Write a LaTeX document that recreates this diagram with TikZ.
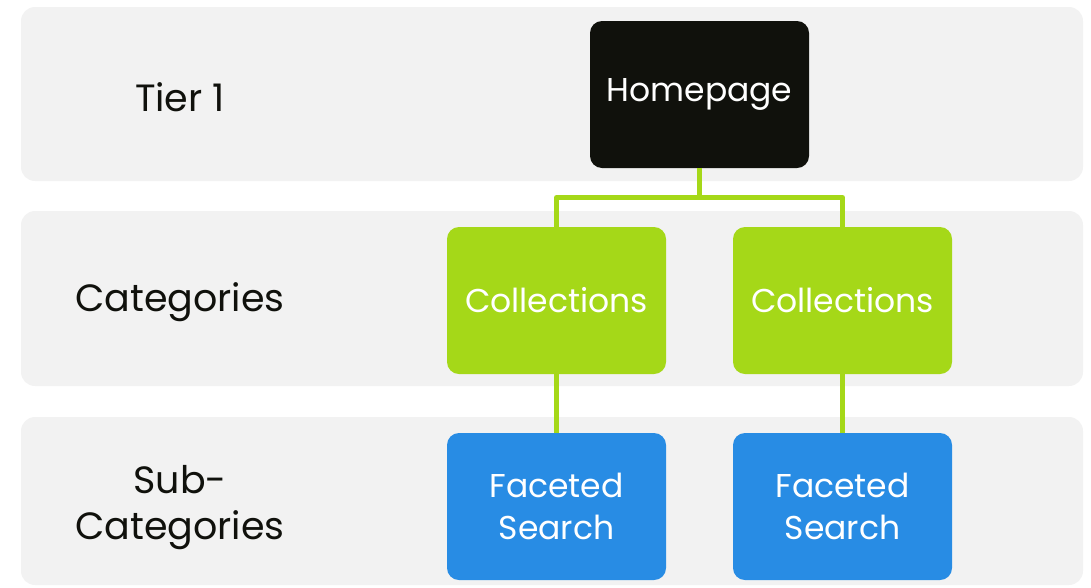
\documentclass[tikz,border=0pt]{standalone}
\usepackage{fontspec}
\setmainfont{Poppins}
\usetikzlibrary{calc}

\definecolor{bandgray}{HTML}{F2F2F2}
\definecolor{tiergreen}{HTML}{A5D818}
\definecolor{tierblue}{HTML}{288CE4}
\definecolor{tierblack}{HTML}{10110C}

\tikzset{
  pagebox/.style={rounded corners=12pt, minimum width=219pt, minimum height=147pt,
    inner sep=0pt, align=center, text=white, font=\fontsize{33}{42}\selectfont},
  tierlabel/.style={align=center, text=tierblack, font=\fontsize{38}{46}\selectfont},
  link/.style={tiergreen, line width=5pt, line join=round}
}

\begin{document}
\begin{tikzpicture}[x=1pt, y=-1pt]
\useasboundingbox (0,0) rectangle (1091,587);
% background bands
\foreach \top/\bot in {7/181, 211/386, 417/585}
  \fill [bandgray, rounded corners=14pt] (21,\top) rectangle (1083,\bot);
% tier names
\node [tierlabel] (tier1) at (180,97) {Tier 1};
\node [tierlabel] (tier2) at (180,302) {Categories};
\node [tierlabel] (tier3) at (180,508) {Sub-\\Categories};
% pages
\node [pagebox, fill=tierblack] (home) at (699.5,94.5) {Homepage};
\node [pagebox, fill=tiergreen] (colA) at (556.5,300.5) {Collections};
\node [pagebox, fill=tiergreen] (colB) at (842.5,300.5) {Collections};
\node [pagebox, fill=tierblue] (facA) at (556.5,506.5) {Faceted\\Search};
\node [pagebox, fill=tierblue] (facB) at (842.5,506.5) {Faceted\\Search};
% links
\coordinate (split) at ($(home.south)!.5!(home.south |- colA.north)$);
\draw [link] (home.south) -- (split);
\draw [link] (split) -| (colA.north);
\draw [link] (split) -| (colB.north);
\draw [link] (colA.south) -- (facA.north);
\draw [link] (colB.south) -- (facB.north);
\end{tikzpicture}
\end{document}
